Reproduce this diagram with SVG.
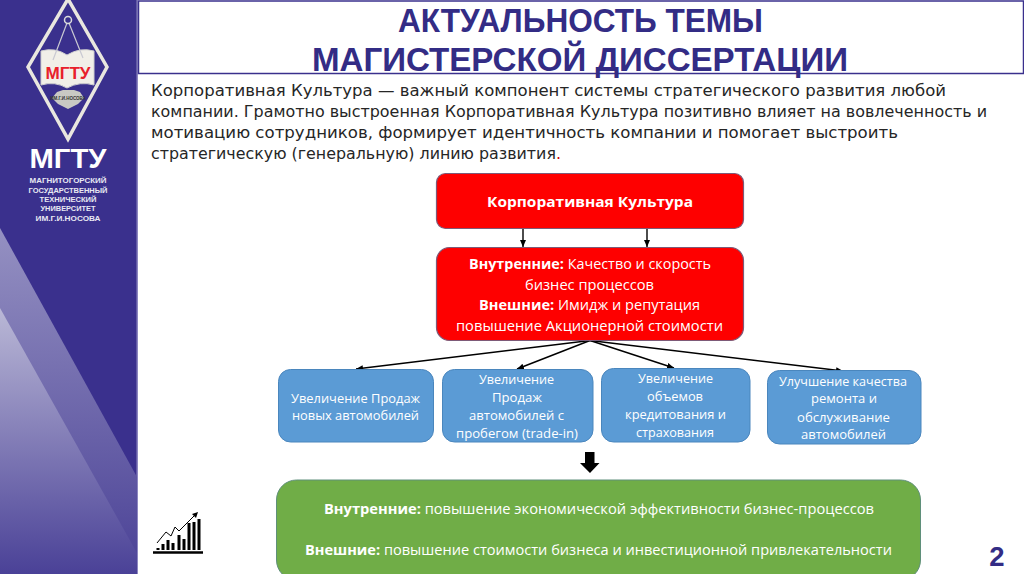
<svg xmlns="http://www.w3.org/2000/svg" width="1024" height="574" viewBox="0 0 1024 574">
<style>
.s{font-family:"Liberation Sans",Arial,sans-serif}
.c{font-family:"Open Sans","Noto Sans",sans-serif;fill:#fff;text-anchor:middle}
.r{font-size:14.4px}
.b{font-size:12.8px}
.g{font-size:14.4px}
.w{font-weight:700}
.conn{stroke:#000;stroke-width:1.4;fill:none;marker-end:url(#ah)}
.red{fill:#fe0000;stroke:#7d5a78;stroke-width:1.2}
.blue{fill:#5b9bd5;stroke:#4a86bd;stroke-width:1}
</style>
<defs>
<marker id="ah" markerWidth="8" markerHeight="7" refX="7" refY="3" orient="auto" markerUnits="userSpaceOnUse"><path d="M0 0L7 3L0 6Z" fill="#000"/></marker>
<linearGradient id="g1" x1="0" y1="0" x2="0" y2="1"><stop offset="0" stop-color="#9591c2"/><stop offset="1" stop-color="#4a4196"/></linearGradient>
<linearGradient id="g2" x1="0" y1="0" x2="0" y2="1"><stop offset="0" stop-color="#bab8d6"/><stop offset="1" stop-color="#4a4197"/></linearGradient>
</defs>
<rect width="1024" height="574" fill="#fff"/>
<g id="sidebar">
<rect x="0" y="0" width="137" height="574" fill="#3a308d"/>
<rect x="136.500" y="0" width="1.500" height="574" fill="#8d87c0"/>
<path d="M0 228L137 477V574H0Z" fill="url(#g1)"/>
<path d="M0 308L137 553V574H0Z" fill="url(#g2)"/>
</g>
<g id="logo">
<path d="M68 -1L107 67L68 139L28 67Z" fill="none" stroke="#e9e7df" stroke-width="3.500"/>
<path d="M41 51Q55 47 67 55Q80 47 94 51V85Q80 81 67 88Q55 81 41 85Z" fill="#f1efe8" stroke="#cfcfcf"/>
<path d="M67 23L53 60M69 23L83 58" fill="none" stroke="#c9c9d2" stroke-width="1.200"/>
<circle cx="68" cy="20" r="3.500" fill="none" stroke="#dcdcdc" stroke-width="1.500"/>
<text x="68" y="78.500" class="s w" font-size="16" fill="#e8202a" text-anchor="middle" textLength="45" lengthAdjust="spacingAndGlyphs">МГТУ</text>
<path d="M52 98L57 92L63 90H74L80 92L84 98L78 104L68 109L58 104Z" fill="#c9c9c4"/>
<text x="68" y="100" class="s w" font-size="4.500" fill="#333" text-anchor="middle">ИМ.Г.И.НОСОВА</text>
<text x="68" y="168" class="s w" font-size="28" fill="#fff" text-anchor="middle" textLength="77" lengthAdjust="spacingAndGlyphs">МГТУ</text>
<g class="s w" font-size="7.500" fill="#e8e8f2" text-anchor="middle">
<text x="68" y="183" textLength="77" lengthAdjust="spacingAndGlyphs">МАГНИТОГОРСКИЙ</text>
<text x="68" y="193" textLength="79" lengthAdjust="spacingAndGlyphs">ГОСУДАРСТВЕННЫЙ</text>
<text x="68" y="202" textLength="57" lengthAdjust="spacingAndGlyphs">ТЕХНИЧЕСКИЙ</text>
<text x="68" y="211" textLength="55" lengthAdjust="spacingAndGlyphs">УНИВЕРСИТЕТ</text>
<text x="68" y="221" textLength="65" lengthAdjust="spacingAndGlyphs">ИМ.Г.И.НОСОВА</text>
</g>
</g>
<g id="title">
<rect x="138.500" y="1" width="885" height="72.500" fill="#fff" stroke="#3a308d" stroke-width="1.500"/>
<text x="580.500" y="32" class="s w" font-size="34" fill="#332c85" text-anchor="middle" textLength="365" lengthAdjust="spacingAndGlyphs">АКТУАЛЬНОСТЬ ТЕМЫ</text>
<text x="580" y="71" class="s w" font-size="34" fill="#332c85" text-anchor="middle" textLength="536" lengthAdjust="spacingAndGlyphs">МАГИСТЕРСКОЙ ДИССЕРТАЦИИ</text>
</g>
<g id="intro" font-family="'DejaVu Sans',sans-serif" font-size="15.500" fill="#262626">
<text x="151" y="96" textLength="795" lengthAdjust="spacingAndGlyphs">Корпоративная Культура — важный компонент системы стратегического развития любой</text>
<text x="151" y="117" textLength="836" lengthAdjust="spacingAndGlyphs">компании. Грамотно выстроенная Корпоративная Культура позитивно влияет на вовлеченность и</text>
<text x="151" y="138" textLength="747" lengthAdjust="spacingAndGlyphs">мотивацию сотрудников, формирует идентичность компании и помогает выстроить</text>
<text x="151" y="159" textLength="410" lengthAdjust="spacingAndGlyphs">стратегическую (генеральную) линию развития<tspan fill="#c00">.</tspan></text>
</g>
<g id="connectors">
<path class="conn" d="M523 218V247"/>
<path class="conn" d="M647 218V247"/>
<path class="conn" d="M590 340.500L356 369"/>
<path class="conn" d="M590 340.500L517 369"/>
<path class="conn" d="M590 340.500L674 368"/>
<path class="conn" d="M590 340.500L843 371"/>
</g>
<g id="n1"><rect class="red" x="436.500" y="173.500" width="307" height="55" rx="9"/>
<text x="590" y="207" class="c w" font-size="15" textLength="206" lengthAdjust="spacingAndGlyphs">Корпоративная Культура</text></g>
<g id="n2"><rect class="red" x="436.500" y="247.500" width="307" height="93" rx="13"/>
<text x="590" y="269" class="c r" textLength="242" lengthAdjust="spacingAndGlyphs"><tspan class="w">Внутренние:</tspan> Качество и скорость</text>
<text x="589.500" y="290" class="c r" textLength="129" lengthAdjust="spacingAndGlyphs">бизнес процессов</text>
<text x="589.500" y="310" class="c r" textLength="221" lengthAdjust="spacingAndGlyphs"><tspan class="w">Внешние:</tspan> Имидж и репутация</text>
<text x="589.500" y="331" class="c r" textLength="267" lengthAdjust="spacingAndGlyphs">повышение Акционерной стоимости</text></g>
<g id="n3"><rect class="blue" x="278.500" y="369.500" width="155" height="72.500" rx="12"/>
<text x="355.500" y="403" class="c b" textLength="129" lengthAdjust="spacingAndGlyphs">Увеличение Продаж</text>
<text x="355.500" y="420" class="c b" textLength="127" lengthAdjust="spacingAndGlyphs">новых автомобилей</text></g>
<g id="n4"><rect class="blue" x="442.500" y="369.500" width="150.500" height="72.500" rx="12"/>
<text x="516.500" y="384" class="c b" textLength="75" lengthAdjust="spacingAndGlyphs">Увеличение</text>
<text x="517" y="402" class="c b" textLength="50" lengthAdjust="spacingAndGlyphs">Продаж</text>
<text x="516.500" y="420" class="c b" textLength="95" lengthAdjust="spacingAndGlyphs">автомобилей с</text>
<text x="517" y="438" class="c b" textLength="122" lengthAdjust="spacingAndGlyphs">пробегом (trade-in)</text></g>
<g id="n5"><rect class="blue" x="601.500" y="368.500" width="148.500" height="73.500" rx="12"/>
<text x="675.500" y="383" class="c b" textLength="75" lengthAdjust="spacingAndGlyphs">Увеличение</text>
<text x="675" y="401" class="c b" textLength="56" lengthAdjust="spacingAndGlyphs">объемов</text>
<text x="675.500" y="419" class="c b" textLength="101" lengthAdjust="spacingAndGlyphs">кредитования и</text>
<text x="675" y="437" class="c b" textLength="78" lengthAdjust="spacingAndGlyphs">страхования</text></g>
<g id="n6"><rect class="blue" x="767.500" y="370.500" width="153.500" height="73.500" rx="12"/>
<text x="843" y="386" class="c b" textLength="128" lengthAdjust="spacingAndGlyphs">Улучшение качества</text>
<text x="844" y="403" class="c b" textLength="66" lengthAdjust="spacingAndGlyphs">ремонта и</text>
<text x="843.500" y="422" class="c b" textLength="93" lengthAdjust="spacingAndGlyphs">обслуживание</text>
<text x="843.500" y="439" class="c b" textLength="85" lengthAdjust="spacingAndGlyphs">автомобилей</text></g>
<g id="arrow"><path d="M585 452H594.500V463H599.500L590 473L580 463H585Z" fill="#000"/></g>
<g id="n7"><rect x="276.500" y="480" width="644" height="100" rx="20" fill="#70ad47" stroke="#5f8f7a" stroke-width="1"/>
<text x="599" y="514" class="c g" textLength="550" lengthAdjust="spacingAndGlyphs"><tspan class="w">Внутренние:</tspan> повышение экономической эффективности бизнес-процессов</text>
<text x="598.500" y="555" class="c g" textLength="587" lengthAdjust="spacingAndGlyphs"><tspan class="w">Внешние:</tspan> повышение стоимости бизнеса и инвестиционной привлекательности</text></g>
<g id="chart">
<path d="M153 552.500H203" stroke="#000" stroke-width="2.500"/>
<path d="M158 550V548M163 550V544M168 550V540M173 550V543M179 550V535M184 550V539M189 550V523M194 550V522M199 550V519" stroke="#000" stroke-width="3"/>
<path d="M157 543L166 532L171 536L175 527L179 531L196 514" fill="none" stroke="#000" stroke-width="1"/>
<path d="M198 512L192 514L196 518Z" fill="#000"/>
</g>
<text id="page" x="997" y="566" class="s w" font-size="27.500" fill="#332c85" text-anchor="middle">2</text>
</svg>
